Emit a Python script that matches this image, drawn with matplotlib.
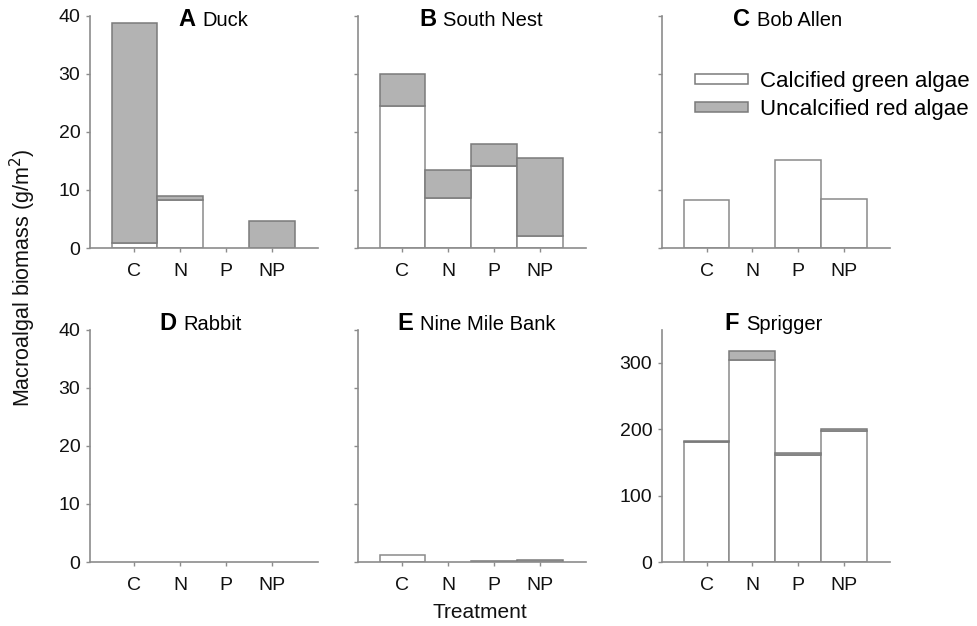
import numpy as np
import matplotlib
matplotlib.use("Agg")
import matplotlib.pyplot as plt
from matplotlib.patches import Patch
from matplotlib.offsetbox import TextArea, HPacker, AnnotationBbox

plt.rcParams['font.family'] = ['Liberation Sans', 'DejaVu Sans']

# treatments on the x axis
treatments = ["C", "N", "P", "NP"]

# site panels
letters = ["A", "B", "C", "D", "E", "F"]
sites = ["Duck", "South Nest", "Bob Allen", "Rabbit", "Nine Mile Bank", "Sprigger"]

# calcified green algae (g/m2), per site
green_duck = [0.8, 8.2, 0.0, 0.0]
green_south_nest = [24.4, 8.6, 14.2, 2.0]
green_bob_allen = [8.2, 0.0, 15.1, 8.4]
green_rabbit = [0.0, 0.0, 0.0, 0.0]
green_nine_mile = [1.2, 0.0, 0.0, 0.0]
green_sprigger = [181, 305, 162, 197]

# uncalcified red algae (g/m2), per site
red_duck = [38.0, 0.8, 0.0, 4.6]
red_south_nest = [5.6, 4.8, 3.7, 13.5]
red_bob_allen = [0.0, 0.0, 0.0, 0.0]
red_rabbit = [0.0, 0.0, 0.0, 0.0]
red_nine_mile = [0.0, 0.0, 0.2, 0.3]
red_sprigger = [2, 13, 3, 4]

greens = [green_duck, green_south_nest, green_bob_allen,
          green_rabbit, green_nine_mile, green_sprigger]
reds = [red_duck, red_south_nest, red_bob_allen,
        red_rabbit, red_nine_mile, red_sprigger]

AXC = "#8c8c8c"
GRAY = "#b3b3b3"

fig = plt.figure(figsize=(9.77, 6.26), dpi=100)

lefts = [0.0921, 0.3664, 0.6776]
bottoms = [0.6038, 0.1022]
w, h = 0.2333, 0.371
# horizontal centre of each panel title, in axes fraction
title_x = [0.54, 0.54, 0.55, 0.485, 0.52, 0.49]

x = np.arange(len(treatments))
for i in range(6):
    row, col = divmod(i, 3)
    ax = fig.add_axes([lefts[col], bottoms[row], w, h])
    g = np.array(greens[i], dtype=float)
    r = np.array(reds[i], dtype=float)

    # only draw bars that have some height
    gm = g > 0
    rm = r > 0
    ax.bar(x[gm], g[gm], width=1.0, color="white", edgecolor="#8a8a8a", linewidth=1.1, zorder=2)
    ax.bar(x[rm], r[rm], bottom=g[rm], width=1.0, color=GRAY, edgecolor="#7a7a7a", linewidth=1.1, zorder=2)

    ax.set_xlim(-0.97, 4.0)
    if i == 5:
        ax.set_ylim(0, 350)
        ax.set_yticks([0, 100, 200, 300])
    else:
        ax.set_ylim(0, 40)
        ax.set_yticks([0, 10, 20, 30, 40])
    ax.set_xticks(x)
    ax.set_xticklabels(treatments)

    for s in ["top", "right"]:
        ax.spines[s].set_visible(False)
    for s in ["left", "bottom"]:
        ax.spines[s].set_color(AXC)
        ax.spines[s].set_linewidth(1.2)
    ax.tick_params(axis="both", colors=AXC, length=3, width=1, labelcolor="#111111", labelsize=14)
    ax.tick_params(axis="x", pad=8)
    ax.tick_params(axis="y", pad=4)
    if col in (1, 2) and i != 5:
        ax.set_yticklabels([])

    # panel title: bold letter + site name, centred as one block
    ty = 0.985 if row == 0 else 1.025
    box = HPacker(children=[TextArea(letters[i], textprops=dict(fontsize=17, fontweight="bold")),
                            TextArea(sites[i], textprops=dict(fontsize=14.5))],
                  align="baseline", pad=0, sep=5)
    ab = AnnotationBbox(box, (title_x[i], ty), xycoords="axes fraction",
                        box_alignment=(0.5, 0.5), frameon=False, annotation_clip=False)
    ax.add_artist(ab)

    if i == 2:
        handles = [Patch(facecolor="white", edgecolor="#7a7a7a", linewidth=1.1),
                   Patch(facecolor=GRAY, edgecolor="#7a7a7a", linewidth=1.1)]
        fig.legend(handles, ["Calcified green algae", "Uncalcified red algae"],
                   loc="upper left", bbox_to_anchor=(0.711, 0.886), frameon=False,
                   fontsize=16, handlelength=2.4, handleheight=0.3, handletextpad=0.55,
                   labelspacing=0.3, borderaxespad=0, borderpad=0)

fig.text(0.023, 0.556, "Macroalgal biomass (g/m$^2$)", rotation=90, ha="center", va="center",
         fontsize=15.5, color="#111111")
fig.text(0.491, 0.022, "Treatment", ha="center", va="center", fontsize=15, color="#111111")

fig.savefig("out.png", dpi=100)
